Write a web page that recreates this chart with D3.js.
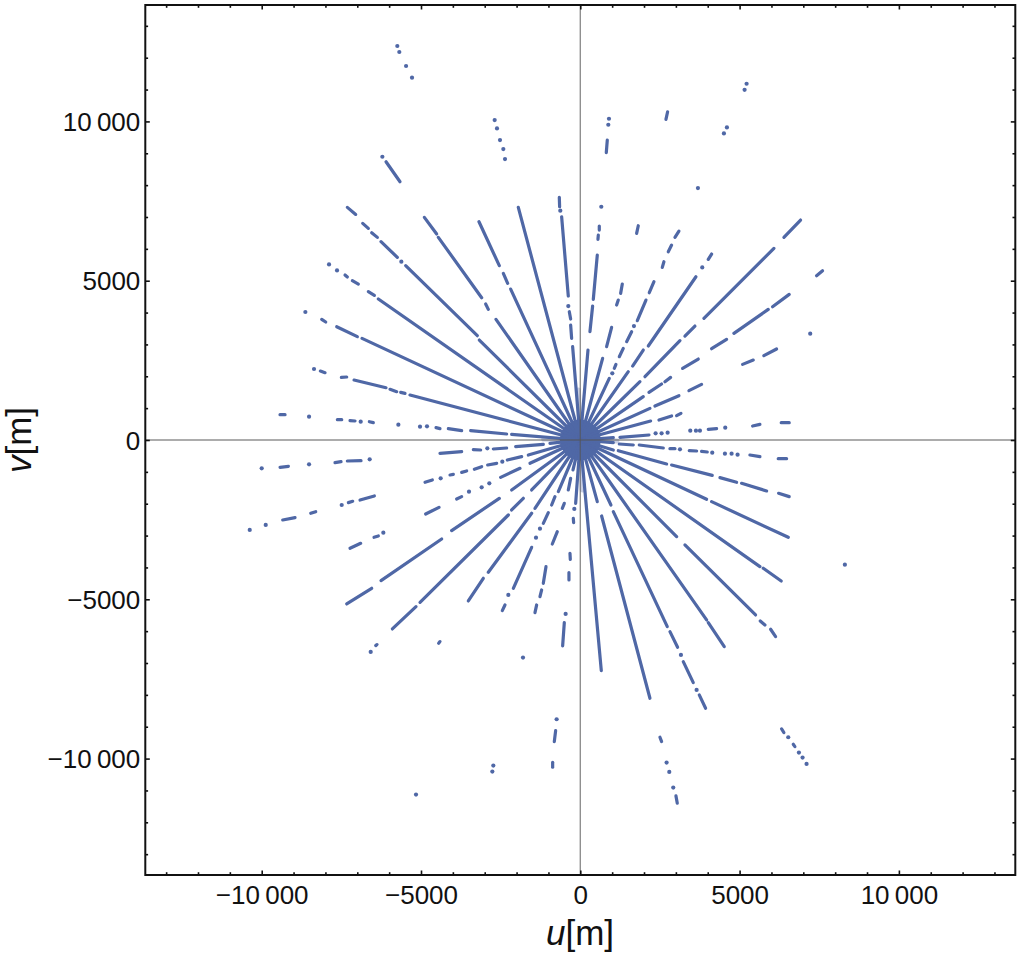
<!DOCTYPE html>
<html><head><meta charset="utf-8">
<script src="https://cdn.jsdelivr.net/npm/d3@7/dist/d3.min.js"></script>
<style>html,body{margin:0;padding:0;background:#fff}svg{display:block}text{font-family:"Liberation Sans",Arial,sans-serif;fill:#111}</style>
</head><body><svg id="c" width="1020" height="956"><defs><filter id="soft" x="0" y="0" width="100%" height="100%" filterUnits="userSpaceOnUse" primitiveUnits="userSpaceOnUse"><feGaussianBlur stdDeviation="0.5"/></filter></defs></svg>
<script>
// Each entry: [u,v] = one isolated visibility, [u1,v1,u2,v2] = unbroken run of samples. Metres.
const spokesUpperLeft=[
[[-659,7615,-649,7322],[-628,7197],[-586,7008,-377,4519],[-377,4205],[-345,4027,-303,3797],[-303,3609,-272,3190],[-241,2929,0,0]],
[[-1946,7301,0,0]],
[[-3180,6851,-2542,5471],[-2416,5230,-2280,4916],[-2186,4738,0,0]],
[[-4895,6987,-4508,6464],[-4456,6360,-3096,4466],[-2971,4268,-2887,4100],[-2646,3787,0,0]],
[[-7312,7301,-7050,7081],[-6830,6799,-6653,6642],[-6548,6506,-6370,6360],[-6255,6224,-5743,5732],[-5617,5596],[-5481,5471,-3232,3274],[-3169,3138,0,0]],
[[-7887,5512],[-7636,5324],[-7385,5178,-7312,5115],[-7155,5000,-6966,4895],[-6653,4655,-6464,4540],[-6339,4425,0,0]],
[[-8630,4017],[-8117,3787,-7991,3703],[-7646,3556,-6998,3243],[-6851,3190,0,0]],
[[-8358,2228],[-8159,2165,-8012,2113],[-7500,1966,-7332,1977],[-7102,1883,-6098,1642],[-5973,1590,-5763,1517],[-5638,1496,-5502,1464],[-5345,1412,0,0]],
[[-9425,795,-9268,795],[-8514,732],[-7625,638,-7489,638],[-7228,607,-7071,596],[-6893,575],[-6621,575,-6496,544],[-5711,481],[-5031,418],[-4812,429],[-4529,387,-4404,356],[-4142,356,-3724,293],[-3441,293,-2312,188],[-2155,178,0,0]],
[[-6213,8891],[-6098,8734,-5659,8107]],
[[-2688,10042],[-2615,9780],[-2521,9414],[-2416,9132],[-2364,8818]],
[[-5744,12367],[-5681,12178],[-5469,11739],[-5282,11372]]
];
const spokesUpperRight=[
[[900,10083],[879,9895],[847,9414,816,9017]],
[[659,7322],[596,6715,596,6590],[565,6433,554,6297],[533,5805,408,4414],[387,4205,303,3400],[241,2824,0,0]],
[[2741,10303,2688,10063]],
[[1820,6726,1768,6485]],
[[1318,4895,1266,4602],[1192,4393,1140,4236],[983,3535,826,2929],[701,2563,0,0]],
[[3096,6558,2971,6360],[2866,6119,2761,5910],[2625,5596,2573,5418],[2312,4968,2165,4623],[2061,4393,1789,3745],[1684,3577],[1611,3400,1454,3086],[1349,2877,1224,2615],[1119,2374,1067,2249],[1004,2092],[910,1935,0,0]],
[[4121,5837,4017,5669],[3828,5418],[3630,5125,2134,2950],[1977,2824,1642,2322],[1506,2144,0,0]],
[[6914,6904,6391,6360],[6077,6015,3881,3818],[3598,3577,3284,3264],[3128,3117,2029,1987],[1872,1830,0,0]],
[[7604,5314,7416,5157]],
[[7217,3337]],
[[3692,7908]],
[[5220,11182],[5157,10993]],
[[4602,9811],[4508,9623]],
[[6558,4571,6035,4184],[5899,4100,4822,3347],[4592,3159,4121,2866],[3703,2542,3211,2249],[2835,1966,2657,1830],[2552,1757,2155,1496],[1977,1360,0,0]],
[[6161,2856,5763,2646],[5429,2510,5094,2374]],
[[3807,1747,3410,1548],[3096,1391,2343,1067],[2186,994,0,0]],
[[3159,837,3023,764],[2866,753,2469,628],[2207,596,0,0]],
[[6558,544,6307,544],[5638,492,5408,439],[4550,387],[4278,356,4017,335],[3755,293],[3630,293],[3452,293],[2741,230],[2552,209],[2364,209],[2155,157,1245,84],[1036,73,0,0]]
];
const spokesLowerLeft=[
[[-10000,-889],[-9424,-858,-9163,-826],[-8514,-764],[-7699,-711,-7510,-680],[-7312,-659,-6883,-649],[-6611,-607],[-4404,-418,-3724,-366],[-3358,-303,-3128,-314],[-2918,-262],[-2730,-282,-2312,-251],[-2029,-209,-1161,-136],[-952,-105,0,0]],
[[-10376,-2824],[-9874,-2667],[-9341,-2510,-8954,-2437],[-8462,-2301,-8305,-2249],[-7489,-2040],[-7280,-1966,-7144,-1925],[-6914,-1883,-6464,-1757],[-4874,-1328,-4644,-1255],[-4383,-1203],[-4090,-1098,-3985,-1077],[-3724,-1015,-3567,-973],[-3326,-920,-3096,-837],[-2908,-784,-2625,-732],[-2448,-680],[-2291,-628,-1841,-523],[-1632,-471,0,0]],
[[-7228,-3400,-6893,-3243],[-6475,-3054,-6339,-3012],[-6182,-2908],[-4853,-2322,-4435,-2113],[-3881,-1851,-3724,-1778],[-3494,-1621],[-3096,-1485],[-2856,-1360],[-2500,-1172,-1893,-889],[-1579,-732,0,0]],
[[-7332,-5146,-6548,-4655],[-6255,-4414,-4351,-3107],[-4038,-2845,-2542,-1831],[-2155,-1569,0,0]],
[[-5899,-5931,-5157,-5230],[-5031,-5094,-2259,-2354],[-2155,-2197,-1789,-1830],[-1527,-1569,0,0]],
[[-3515,-5052,-3044,-4341],[-2887,-4153,-1527,-2301],[-1423,-2144,0,0]],
[[-2448,-5356,-2364,-5178],[-2259,-4864],[-2102,-4655,-1527,-3368],[-1391,-3065],[-1266,-2782],[-1161,-2615,-1004,-2280],[-900,-2040,-795,-1778],[-690,-1621,0,0]],
[[-1423,-5418,-1370,-5178],[-1266,-4916,-1213,-4707],[-1161,-4498,-1077,-3975],[-879,-3264,-722,-2876],[-565,-2144,-502,-1987],[-377,-1569,-303,-1203],[-230,-941,0,0]],
[[-460,-5460],[-502,-5732,-554,-6464],[-356,-4393,-356,-4163],[-314,-3745,-324,-3556],[-209,-2594,-220,-2458],[-188,-2165],[-146,-1987,0,0]],
[[-6579,-6653],[-6422,-6454,-6381,-6422]],
[[-4404,-6328,-4446,-6381]],
[[-1799,-6830]],
[[-743,-8765],[-774,-9121,-816,-9466]],
[[-868,-10115,-868,-10272]],
[[-2730,-10219],[-2761,-10408]],
[[-5157,-11129]]
];
const spokesLowerRight=[
[[659,-7238,0,0]],
[[2186,-8107,669,-2385],[533,-1935,0,0]],
[[3933,-8420,3734,-8002],[3651,-7845],[3546,-7615,3232,-6956],[3159,-6747],[3054,-6506,2814,-6015],[2730,-5858,1036,-2249],[962,-2040,0,0]],
[[4519,-6485,4017,-5732],[3964,-5648,0,0]],
[[6130,-6171,5973,-5941],[5795,-5805,5648,-5680],[5502,-5492,3284,-3295],[3023,-3033,0,0]],
[[6307,-4425,5743,-4027],[5638,-3975,0,0]],
[[6527,-3054,4121,-1935],[3964,-1862,0,0]],
[[6558,-1778,6224,-1674],[5847,-1600,5063,-1360],[4906,-1328,4383,-1182],[4142,-1109,2866,-785],[2709,-753,1192,-335],[1036,-314,0,0]],
[[6475,-586,6213,-586],[5638,-523,5324,-471],[4937,-460],[4749,-429],[4540,-429],[4142,-397],[3985,-377,3807,-356],[3651,-345,3420,-335],[3128,-293],[2971,-272,2814,-272],[2605,-251,1851,-157],[1663,-157,1224,-126],[1036,-84,0,0]],
[[8305,-3912]],
[[6318,-9069,6391,-9184],[6527,-9330],[6684,-9550,6736,-9623],[6862,-9811],[6977,-9968],[7102,-10167]],
[[2500,-9330,2552,-9466],[2709,-10125],[2793,-10418],[2918,-10910],[3002,-11171,3044,-11401]]
];
// Short, pale spokes lying almost on the axes near the origin.
const axisHugging=[[-60,1570,0,0],[60,-1570,0,0],[-1150,30,0,0],[1150,-30,0,0]];
// Radius (m) within which the samples of all spokes merge into a solid core.
const coreRadius=[640];

const majorTicks=[-10000,-5000,0,5000,10000];
const minorTicks=[-13000,-12000,-11000,-9000,-8000,-7000,-6000,-4000,-3000,-2000,-1000,1000,2000,3000,4000,6000,7000,8000,9000,11000,12000,13000];
const tickLabels=["\u221210\u2009000","\u22125000","0","5000","10\u2009000"];
const xTitle=["u","[m]"], yTitle=["v","[m]"];
const domainLimit=13654;
const pointColor="#5067a6";

const svg=d3.select("#c");
const x=d3.scaleLinear().domain([-domainLimit,domainLimit]).range([145.3,1015.3]);
const y=d3.scaleLinear().domain([-domainLimit,domainLimit]).range([875,5]);
const lineGen=d3.line().x(d=>x(d[0])).y(d=>y(d[1]));
const all=[...spokesUpperLeft,...spokesUpperRight,...spokesLowerLeft,...spokesLowerRight].flat();
const runs=all.filter(d=>d.length===4), points=all.filter(d=>d.length===2);

const marks=svg.append("g").attr("filter","url(#soft)");
marks.selectAll("path.faint").data(axisHugging).join("path").attr("class","faint")
 .attr("d",d=>lineGen([[d[0],d[1]],[d[2],d[3]]])).attr("fill","none").attr("stroke",pointColor)
 .attr("stroke-opacity",.3).attr("stroke-width",5).attr("stroke-linecap","round");
marks.selectAll("circle.core").data(coreRadius).join("circle").attr("class","core")
 .attr("cx",x(0)).attr("cy",y(0)).attr("r",d=>x(d)-x(0)).attr("fill",pointColor);
marks.selectAll("path.run").data(runs).join("path").attr("class","run")
 .attr("d",d=>lineGen([[d[0],d[1]],[d[2],d[3]]])).attr("fill","none").attr("stroke",pointColor)
 .attr("stroke-width",3.2).attr("stroke-linecap","round");
marks.selectAll("circle.pt").data(points).join("circle").attr("class","pt")
 .attr("cx",d=>x(d[0])).attr("cy",d=>y(d[1])).attr("r",2.1).attr("fill",pointColor);

// zero axes
svg.append("path").attr("d",lineGen([[0,-domainLimit],[0,domainLimit]])).attr("stroke","#555").attr("stroke-opacity",.65).attr("stroke-width",1.4).attr("fill","none");
svg.append("path").attr("d",lineGen([[-domainLimit,0],[domainLimit,0]])).attr("stroke","#555").attr("stroke-opacity",.65).attr("stroke-width",1.4).attr("fill","none");

// frame ticks
function frameAxis(gen,tx,ty,vals,len,labels){
 const a=gen.tickValues(vals).tickSizeInner(-len).tickSizeOuter(0).tickPadding(len+(labels?9:0));
 a.tickFormat(labels?((d,i)=>labels[i]):()=> "");
 const g=svg.append("g").attr("transform",`translate(${tx},${ty})`).call(a);
 g.select(".domain").remove();
 g.selectAll("line").attr("stroke","#111").attr("stroke-width",1.6);
 g.selectAll("text").style("font-size","26px").style("font-family",'"Liberation Sans",Arial,sans-serif').attr("fill","#111");
 return g;
}
for(const [vals,len,labels] of [[majorTicks,4.5,tickLabels],[minorTicks,2.8,null]]){
 const gx=frameAxis(d3.axisBottom(x),0,875,vals,len,labels);
 frameAxis(d3.axisTop(x),0,5,vals,len,null);
 const gy=frameAxis(d3.axisLeft(y),145.3,0,vals,len,labels);
 frameAxis(d3.axisRight(y),1015.3,0,vals,len,null);
 if(labels){
  gx.selectAll("text").attr("dy",null).attr("y",28.5);
  gy.selectAll("text").attr("x",-5).attr("dy","0.35em");
 }
}
svg.append("rect").attr("x",145.3).attr("y",5).attr("width",870).attr("height",870)
 .attr("fill","none").attr("stroke","#111").attr("stroke-width",2);

// titles
const xt=svg.append("text").attr("x",580).attr("y",945).attr("text-anchor","middle").style("font-size","35px");
xt.append("tspan").style("font-style","italic").text(xTitle[0]); xt.append("tspan").text(xTitle[1]);
const yt=svg.append("text").attr("transform","translate(31,440) rotate(-90)").attr("text-anchor","middle").style("font-size","35px");
yt.append("tspan").style("font-style","italic").text(yTitle[0]); yt.append("tspan").text(yTitle[1]);
</script></body></html>
